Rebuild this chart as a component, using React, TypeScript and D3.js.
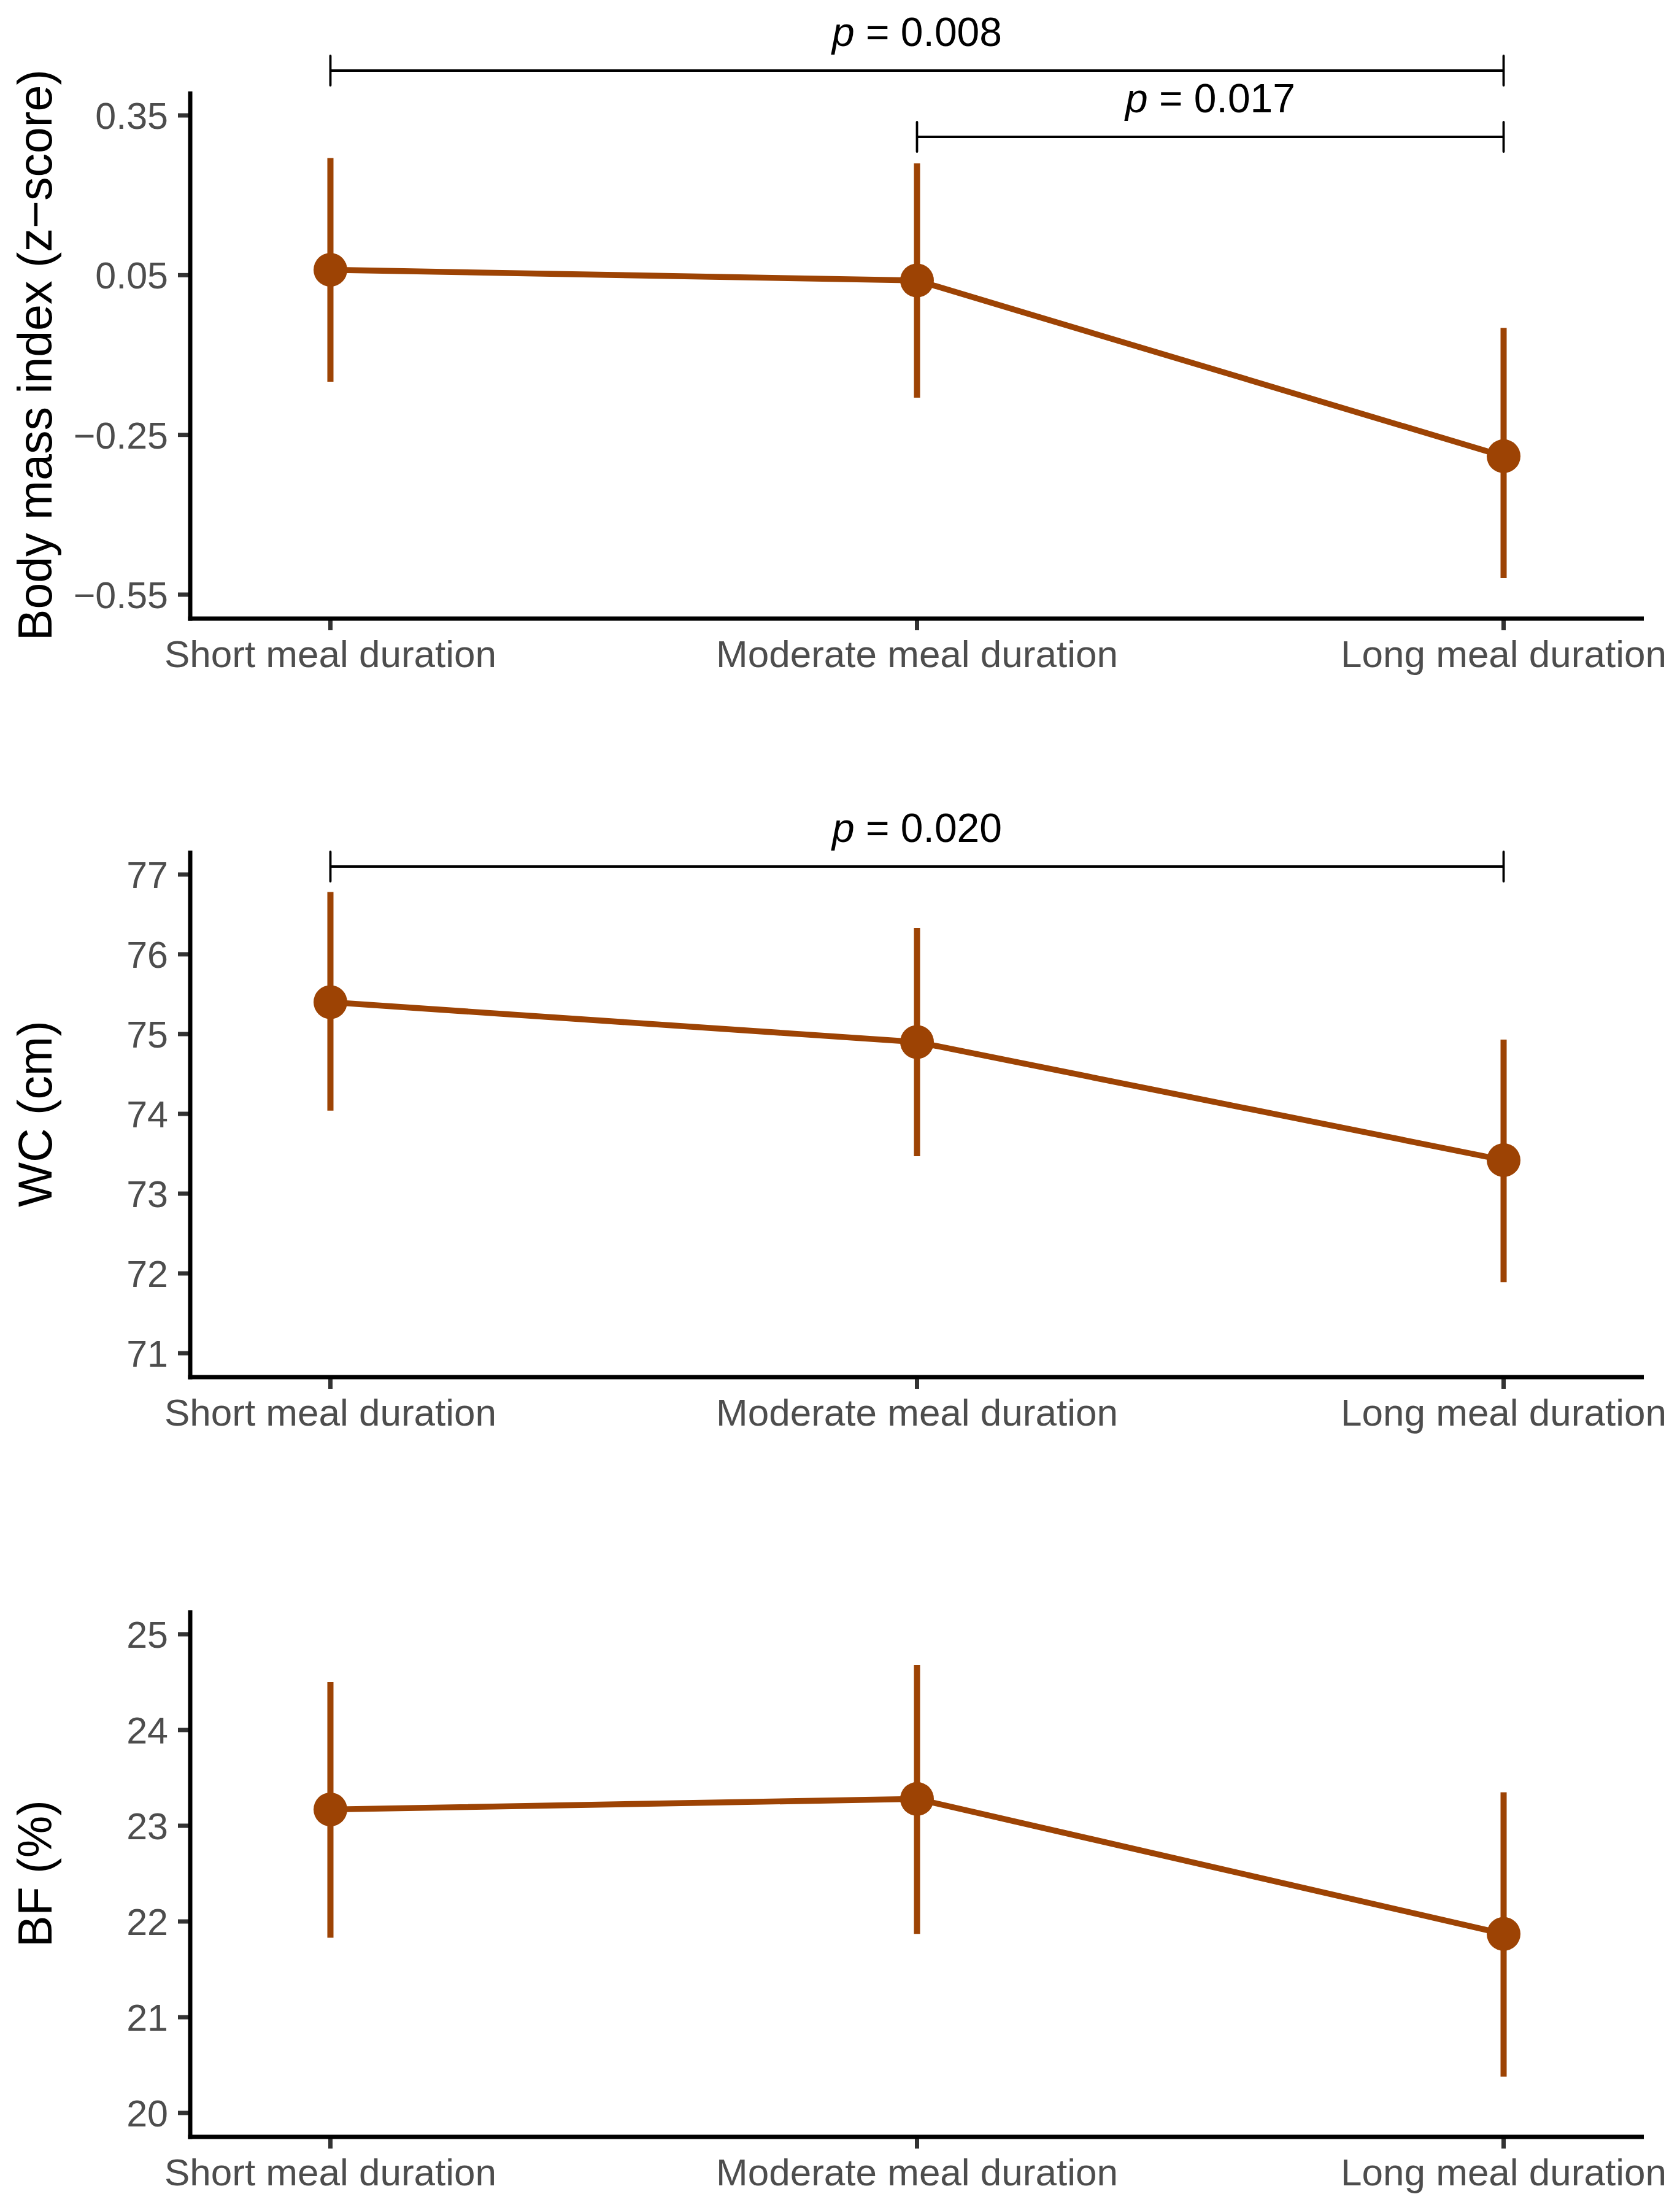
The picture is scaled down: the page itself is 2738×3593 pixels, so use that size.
import React from "react";
import * as d3 from "d3";

const categories = ["Short meal duration", "Moderate meal duration", "Long meal duration"];

const bmiMean = [0.06, 0.04, -0.29];
const bmiLow = [-0.15, -0.18, -0.519];
const bmiHigh = [0.27, 0.26, -0.049];
const bmiTicks = [-0.55, -0.25, 0.05, 0.35];

const wcMean = [75.4, 74.9, 73.42];
const wcLow = [74.04, 73.47, 71.89];
const wcHigh = [76.78, 76.33, 74.93];
const wcTicks = [71, 72, 73, 74, 75, 76, 77];

const bfMean = [23.17, 23.28, 21.87];
const bfLow = [21.83, 21.87, 20.38];
const bfHigh = [24.5, 24.68, 23.35];
const bfTicks = [20, 21, 22, 23, 24, 25];

const bmiComparisons = [
  { from: 0, to: 2, p: "0.008" },
  { from: 1, to: 2, p: "0.017" },
];
const wcComparisons = [{ from: 0, to: 2, p: "0.020" }];
const bfComparisons: { from: number; to: number; p: string }[] = [];

const COLOR = "#9D4304";
const FONT = "'Liberation Sans', Arial, Helvetica, sans-serif";

const W = 2738;
const H = 3593;
const AXIS_X = 310;
const AXIS_RIGHT = 2679;

interface PanelProps {
  title: string;
  mean: number[];
  low: number[];
  high: number[];
  ticks: number[];
  limits: [number, number];
  top: number;
  bottom: number;
  comparisons: { from: number; to: number; p: string }[];
  bracketYs: number[];
  fmt: (v: number) => string;
}

function Panel(props: PanelProps) {
  const { title, mean, low, high, ticks, limits, top, bottom, comparisons, bracketYs, fmt } = props;
  const x = d3.scalePoint<string>().domain(categories).range([AXIS_X, AXIS_RIGHT]).padding(0.239);
  const span = limits[1] - limits[0];
  const y = d3
    .scaleLinear()
    .domain([limits[0] - span * 0.05, limits[1] + span * 0.05])
    .range([bottom, top]);
  const pts = categories.map((c, i) => [x(c) as number, y(mean[i])] as [number, number]);
  const line = d3.line()(pts) || "";
  const sw = 7;
  return (
    <g>
      {/* y axis title */}
      <text
        transform={`translate(84,${(top + bottom) / 2}) rotate(-90)`}
        textAnchor="middle"
        fontSize={77}
        fontFamily={FONT}
        fill="#000"
      >
        {title}
      </text>
      {/* y ticks */}
      {ticks.map((t) => (
        <g key={t}>
          <line x1={AXIS_X - 20} x2={AXIS_X} y1={y(t)} y2={y(t)} stroke="#333" strokeWidth={sw} />
          <text
            x={274}
            y={y(t)}
            dy="0.36em"
            textAnchor="end"
            fontSize={61}
            fontFamily={FONT}
            fill="#4D4D4D"
          >
            {fmt(t)}
          </text>
        </g>
      ))}
      {/* x ticks */}
      {categories.map((c) => (
        <g key={c}>
          <line x1={x(c)} x2={x(c)} y1={bottom} y2={bottom + 19} stroke="#333" strokeWidth={sw} />
          <text
            x={x(c)}
            y={bottom + 79}
            textAnchor="middle"
            fontSize={62}
            fontFamily={FONT}
            fill="#4D4D4D"
          >
            {c}
          </text>
        </g>
      ))}
      {/* axes */}
      <line x1={AXIS_X} x2={AXIS_X} y1={top} y2={bottom + sw / 2} stroke="#000" strokeWidth={sw} />
      <line x1={AXIS_X - sw / 2} x2={AXIS_RIGHT} y1={bottom} y2={bottom} stroke="#000" strokeWidth={sw} />
      {/* error bars */}
      {categories.map((c, i) => (
        <line
          key={"e" + c}
          x1={x(c)}
          x2={x(c)}
          y1={y(low[i])}
          y2={y(high[i])}
          stroke={COLOR}
          strokeWidth={10}
        />
      ))}
      <path d={line} fill="none" stroke={COLOR} strokeWidth={9.6} />
      {pts.map((p, i) => (
        <circle key={"p" + i} cx={p[0]} cy={p[1]} r={27.5} fill={COLOR} />
      ))}
      {/* comparison brackets */}
      {comparisons.map((cmp, i) => {
        const by = bracketYs[i];
        const x1 = x(categories[cmp.from]) as number;
        const x2 = x(categories[cmp.to]) as number;
        return (
          <g key={"b" + i}>
            <line x1={x1} x2={x2} y1={by} y2={by} stroke="#000" strokeWidth={3.8} />
            <line x1={x1} x2={x1} y1={by - 24} y2={by + 24} stroke="#000" strokeWidth={3.8} strokeLinecap="round" />
            <line x1={x2} x2={x2} y1={by - 24} y2={by + 24} stroke="#000" strokeWidth={3.8} strokeLinecap="round" />
            <text
              x={(x1 + x2) / 2}
              y={by - 40}
              textAnchor="middle"
              fontSize={66}
              fontFamily={FONT}
              fill="#000"
            >
              <tspan fontStyle="italic">p</tspan>
              {" = " + cmp.p}
            </text>
          </g>
        );
      })}
    </g>
  );
}

const fmtMinus = (d: number) => d.toFixed(2).replace("-", "\u2212");
const fmtInt = (d: number) => String(d);

export default function App() {
  return (
    <svg
      width={W}
      height={H}
      viewBox={`0 0 ${W} ${H}`}
      style={{ position: "absolute", left: 0, top: 0, background: "#fff" }}
    >
      <rect x={0} y={0} width={W} height={H} fill="#fff" />
      <Panel
        title={"Body mass index (z\u2212score)"}
        mean={bmiMean}
        low={bmiLow}
        high={bmiHigh}
        ticks={bmiTicks}
        limits={[-0.55, 0.35]}
        top={149}
        bottom={1008}
        comparisons={bmiComparisons}
        bracketYs={[115, 223]}
        fmt={fmtMinus}
      />
      <Panel
        title="WC (cm)"
        mean={wcMean}
        low={wcLow}
        high={wcHigh}
        ticks={wcTicks}
        limits={[71, 77]}
        top={1386}
        bottom={2244}
        comparisons={wcComparisons}
        bracketYs={[1412]}
        fmt={fmtInt}
      />
      <Panel
        title="BF (%)"
        mean={bfMean}
        low={bfLow}
        high={bfHigh}
        ticks={bfTicks}
        limits={[20, 25]}
        top={2624}
        bottom={3482}
        comparisons={bfComparisons}
        bracketYs={[]}
        fmt={fmtInt}
      />
    </svg>
  );
}
